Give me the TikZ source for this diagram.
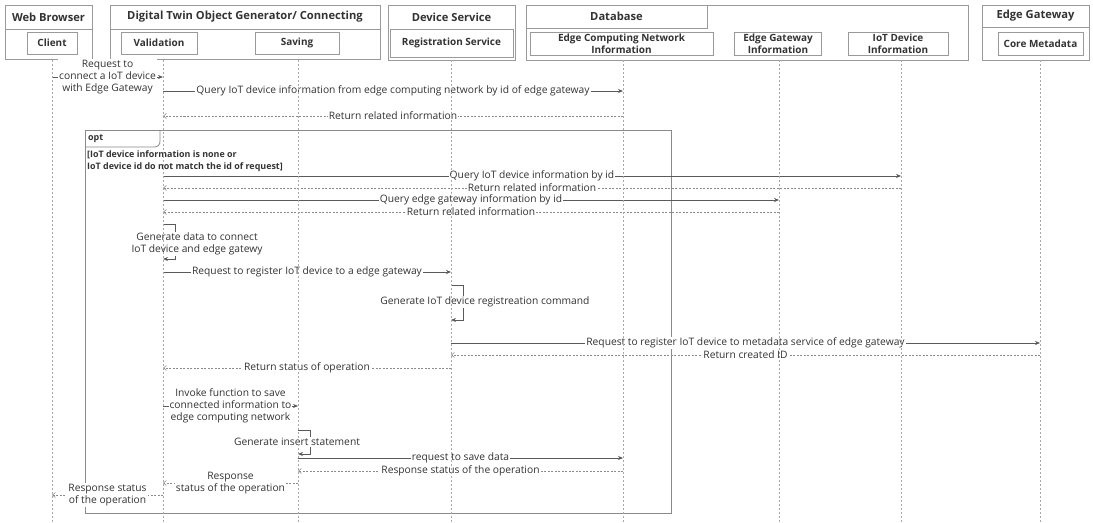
\documentclass[tikz,border=0pt]{standalone}
\usepackage{fontspec}
\setmainfont{Open Sans}
\usetikzlibrary{arrows.meta}
\definecolor{txt}{HTML}{333333}
\definecolor{boxc}{HTML}{9A9A9A}
\definecolor{linec}{HTML}{5A5A5A}
\definecolor{lifec}{HTML}{A8A8A8}
\definecolor{retc}{HTML}{8A8A8A}
\newcommand\bodyfont{\fontsize{10.3}{12.2}\selectfont}
\newcommand\ttlfont{\fontsize{11.2}{13}\selectfont\bfseries}
\newcommand\subfont{\fontsize{10}{12.4}\selectfont\bfseries}
\newcommand\guardfont{\fontsize{8.95}{12}\selectfont\bfseries}
\tikzset{
  grp/.style={draw=boxc, line width=0.8bp},
  sub/.style={draw=boxc, line width=0.8bp, align=center, font=\subfont, text=txt, inner sep=0pt},
  ttl/.style={font=\ttlfont, text=txt, inner sep=0pt},
  life/.style={draw=lifec, line width=0.6bp, dash pattern=on 2bp off 2bp},
  msg/.style={draw=linec, line width=0.7bp, -{Stealth[length=5bp,width=4bp]}},
  ret/.style={draw=retc, line width=0.6bp, dash pattern=on 2bp off 1.5bp, -{Straight Barb[length=3bp,width=5bp]}},
  lbl/.style={fill=white, text=txt, font=\bodyfont, align=center, inner sep=1bp},
  frame/.style={draw=retc, line width=0.8bp},
}
\begin{document}
\begin{tikzpicture}[x=1bp, y=-1bp]
\useasboundingbox (0,0) rectangle (1093,523);
\fill[white] (0,0) rectangle (1093,523);

% ---------- participants ----------
% Web Browser
\draw[grp] (5,5) rectangle (92,59);
\draw[grp] (5,29) -- (92,29);
\node[ttl] (tWB) at (48.5,17) {Web Browser};
\node[sub, minimum width=50bp, minimum height=22bp] (client) at (52,43) {Client};

% Digital Twin Object Generator / Connecting
\draw[grp] (110,5) rectangle (380,59);
\draw[grp] (110,29) -- (380,29);
\node[ttl] (tDT) at (245,17) {Digital Twin Object Generator/ Connecting};
\node[sub, minimum width=76bp, minimum height=22bp] (valid) at (159,43) {Validation};
\node[sub, minimum width=84bp, minimum height=22bp] (saving) at (297,43) {Saving};

% Device Service
\draw[grp] (388,5) rectangle (515,60);
\node[ttl] (tDS) at (451.5,17) {Device Service};
\node[sub, minimum width=123bp, minimum height=28bp] (reg) at (451.5,43) {Registration Service};

% Database
\draw[grp] (526,5) rectangle (968,60);
\node[ttl, draw=boxc, line width=0.8bp, minimum width=181bp, minimum height=23bp] (tDB) at (616.5,16.5) {Database};
\node[sub, minimum width=183bp, minimum height=23bp] (ecn) at (621.5,43.5) {Edge Computing Network\\Information};
\node[sub, minimum width=87bp, minimum height=23bp] (egi) at (778,43.5) {Edge Gateway\\Information};
\node[sub, minimum width=100bp, minimum height=23bp] (iot) at (898,43.5) {IoT Device\\Information};

% Edge Gateway
\draw[grp] (982,5) rectangle (1089,60);
\draw[grp] (982,27) -- (1089,27);
\node[ttl] (tEG) at (1035.5,16) {Edge Gateway};
\node[sub, minimum width=85bp, minimum height=23bp] (core) at (1040.5,43.5) {Core Metadata};

% ---------- lifeline positions ----------
\coordinate (lClient) at (52,0);
\coordinate (lValid)  at (163,0);
\coordinate (lSave)   at (298,0);
\coordinate (lReg)    at (451,0);
\coordinate (lEcn)    at (623,0);
\coordinate (lEgi)    at (779,0);
\coordinate (lIot)    at (901,0);
\coordinate (lCore)   at (1040,0);
\coordinate (top) at (0,60);
\coordinate (bot) at (0,523);

% ---------- opt fragment ----------
\draw[frame] (85,130) rectangle (671,513);
\draw[frame] (85,147) -- (154,147) .. controls (158,147) and (160,145) .. (160,141) -- (160,130);
\node[font=\guardfont, text=txt, anchor=west, inner sep=0pt] (optlbl) at (88,138.5) {opt};
\node[font=\guardfont, text=txt, anchor=west, align=left, inner sep=0pt] (guard) at (87,161) {[IoT device information is none or\\IoT device id do not match the id of request]};

% ---------- message rows ----------
\coordinate (m1)  at (0,77);
\coordinate (m2)  at (0,91);
\coordinate (m3)  at (0,116);
\coordinate (m5)  at (0,176);
\coordinate (m6)  at (0,188);
\coordinate (m7)  at (0,200);
\coordinate (m8)  at (0,212);
\coordinate (m10) at (0,272);
\coordinate (m12) at (0,343);
\coordinate (m13) at (0,355);
\coordinate (m14) at (0,368);
\coordinate (m15) at (0,406);
\coordinate (m17) at (0,458);
\coordinate (m18) at (0,471);
\coordinate (m19) at (0,483);
\coordinate (m20) at (0,495);

\draw[msg] (lClient |- m1) -- (lValid |- m1)
  node[lbl, midway] (t1) {Request to\\connect a IoT device\\with Edge Gateway};
\draw[msg] (lValid |- m2) -- (lEcn |- m2)
  node[lbl, midway] (t2) {Query IoT device information from edge computing network by id of edge gateway};
\draw[ret] (lEcn |- m3) -- (lValid |- m3)
  node[lbl, midway] (t3) {Return related information};
\draw[msg] (lValid |- m5) -- (lIot |- m5)
  node[lbl, midway] (t5) {Query IoT device information by id};
\draw[ret] (lIot |- m6) -- (lValid |- m6)
  node[lbl, midway] (t6) {Return related information};
\draw[msg] (lValid |- m7) -- (lEgi |- m7)
  node[lbl, midway] (t7) {Query edge gateway information by id};
\draw[ret] (lEgi |- m8) -- (lValid |- m8)
  node[lbl, midway] (t8) {Return related information};

% self call: Validation
\coordinate (s1a) at (175,224);
\coordinate (s1b) at (175,259);
\draw[msg] (lValid |- s1a) -- (s1a) -- (s1b) -- (lValid |- s1b);
\node[lbl] (t9) at (197,244) {Generate data to connect\\IoT device and edge gatewy};

\draw[msg] (lValid |- m10) -- (lReg |- m10)
  node[lbl, midway] (t10) {Request to register IoT device to a edge gateway};

% self call: Registration Service
\coordinate (s2a) at (463,285);
\coordinate (s2b) at (463,320);
\draw[msg] (lReg |- s2a) -- (s2a) -- (s2b) -- (lReg |- s2b);
\node[lbl] (t11) at (485,302) {Generate IoT device registreation command};

\draw[msg] (lReg |- m12) -- (lCore |- m12)
  node[lbl, midway] (t12) {Request to register IoT device to metadata service of edge gateway};
\draw[ret] (lCore |- m13) -- (lReg |- m13)
  node[lbl, midway] (t13) {Return created ID};
\draw[ret] (lReg |- m14) -- (lValid |- m14)
  node[lbl, midway] (t14) {Return status of operation};
\draw[msg] (lValid |- m15) -- (lSave |- m15)
  node[lbl, midway] (t15) {Invoke function to save\\connected information to\\edge computing network};

% self call: Saving
\coordinate (s3a) at (310,430);
\coordinate (s3b) at (310,454);
\draw[msg] (lSave |- s3a) -- (s3a) -- (s3b) -- (lSave |- s3b);
\node[lbl] (t16) at (297,442) {Generate insert statement};

\draw[msg] (lSave |- m17) -- (lEcn |- m17)
  node[lbl, midway] (t17) {request to save data};
\draw[ret] (lEcn |- m18) -- (lSave |- m18)
  node[lbl, midway] (t18) {Response status of the operation};
\draw[ret] (lSave |- m19) -- (lValid |- m19)
  node[lbl, midway] (t19) {Response\\status of the operation};
\draw[ret] (lValid |- m20) -- (lClient |- m20)
  node[lbl, midway] (t20) {Response status\\of the operation};

% ---------- lifelines ----------
\foreach \p in {lClient,lValid,lSave,lReg,lEcn,lEgi,lIot,lCore}
  \draw[life] (\p |- top) -- (\p |- bot);
\end{tikzpicture}
\end{document}
